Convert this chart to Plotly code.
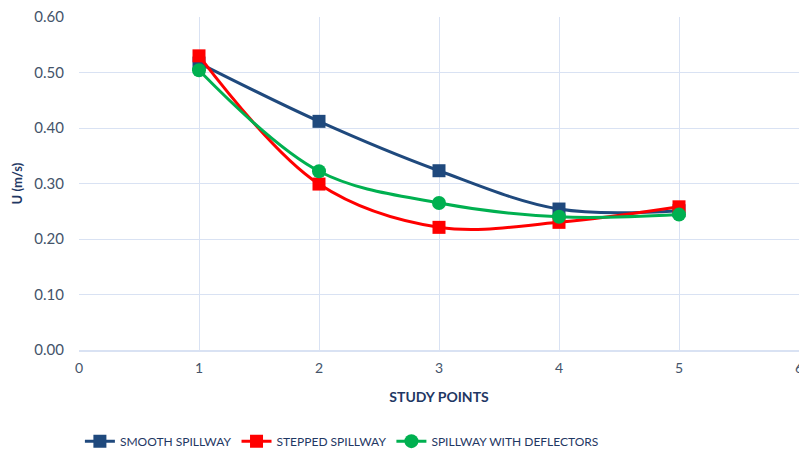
import plotly.graph_objects as go

study_points = [1, 2, 3, 4, 5]
smooth = [0.517, 0.412, 0.323, 0.254, 0.251]
stepped = [0.530, 0.299, 0.221, 0.230, 0.258]
deflectors = [0.504, 0.322, 0.265, 0.240, 0.244]

y_ticks = [0.0, 0.1, 0.2, 0.3, 0.4, 0.5, 0.6]
x_ticks = [0, 1, 2, 3, 4, 5, 6]

font_family = "Lato, Open Sans, sans-serif"
text_color = "#44546A"
title_color = "#1F3864"
grid_color = "#D9E2F3"

fig = go.Figure()
series = [
    ("SMOOTH SPILLWAY", smooth, "#1F497D", "square", 13),
    ("STEPPED SPILLWAY", stepped, "#FF0000", "square", 13),
    ("SPILLWAY WITH DEFLECTORS", deflectors, "#00B050", "circle", 14),
]
for name, vals, color, symbol, size in series:
    fig.add_trace(go.Scatter(
        x=study_points, y=vals, name=name, mode="lines+markers",
        line=dict(color=color, width=3, shape="spline", smoothing=1.0),
        marker=dict(symbol=symbol, size=size, color=color),
    ))

fig.update_layout(
    width=799, height=452,
    margin=dict(l=79, r=0, t=17, b=102, autoexpand=False),
    paper_bgcolor="white", plot_bgcolor="white",
    font=dict(family=font_family, color=text_color, size=14),
    showlegend=True,
    legend=dict(orientation="h", xref="container", x=0.1, xanchor="left",
                yref="container", y=0.024, yanchor="middle",
                font=dict(size=12, color=title_color),
                itemwidth=30, traceorder="normal"),
)
fig.update_xaxes(
    range=[0, 6], tickvals=x_ticks, ticktext=[str(v) for v in x_ticks],
    showgrid=True, gridcolor=grid_color, gridwidth=1,
    zeroline=False, showline=True, linecolor=grid_color, linewidth=1.5,
    ticks="", tickfont=dict(size=14, color=text_color), ticklabeloverflow="allow",
    ticklabelstandoff=4, automargin=False,
    title=dict(text="<b>STUDY POINTS</b>", font=dict(size=14, color=title_color), standoff=18),
)
fig.update_yaxes(
    range=[0, 0.6], tickvals=y_ticks, tickformat=".2f",
    showgrid=True, gridcolor=grid_color, gridwidth=1,
    zeroline=False, showline=False, automargin=False,
    ticks="", tickfont=dict(size=15, color=text_color), ticklabelstandoff=14,
    title=dict(text="<b>U (m/s)</b>", font=dict(size=13, color=title_color), standoff=8),
)

fig.write_html("out.html")
